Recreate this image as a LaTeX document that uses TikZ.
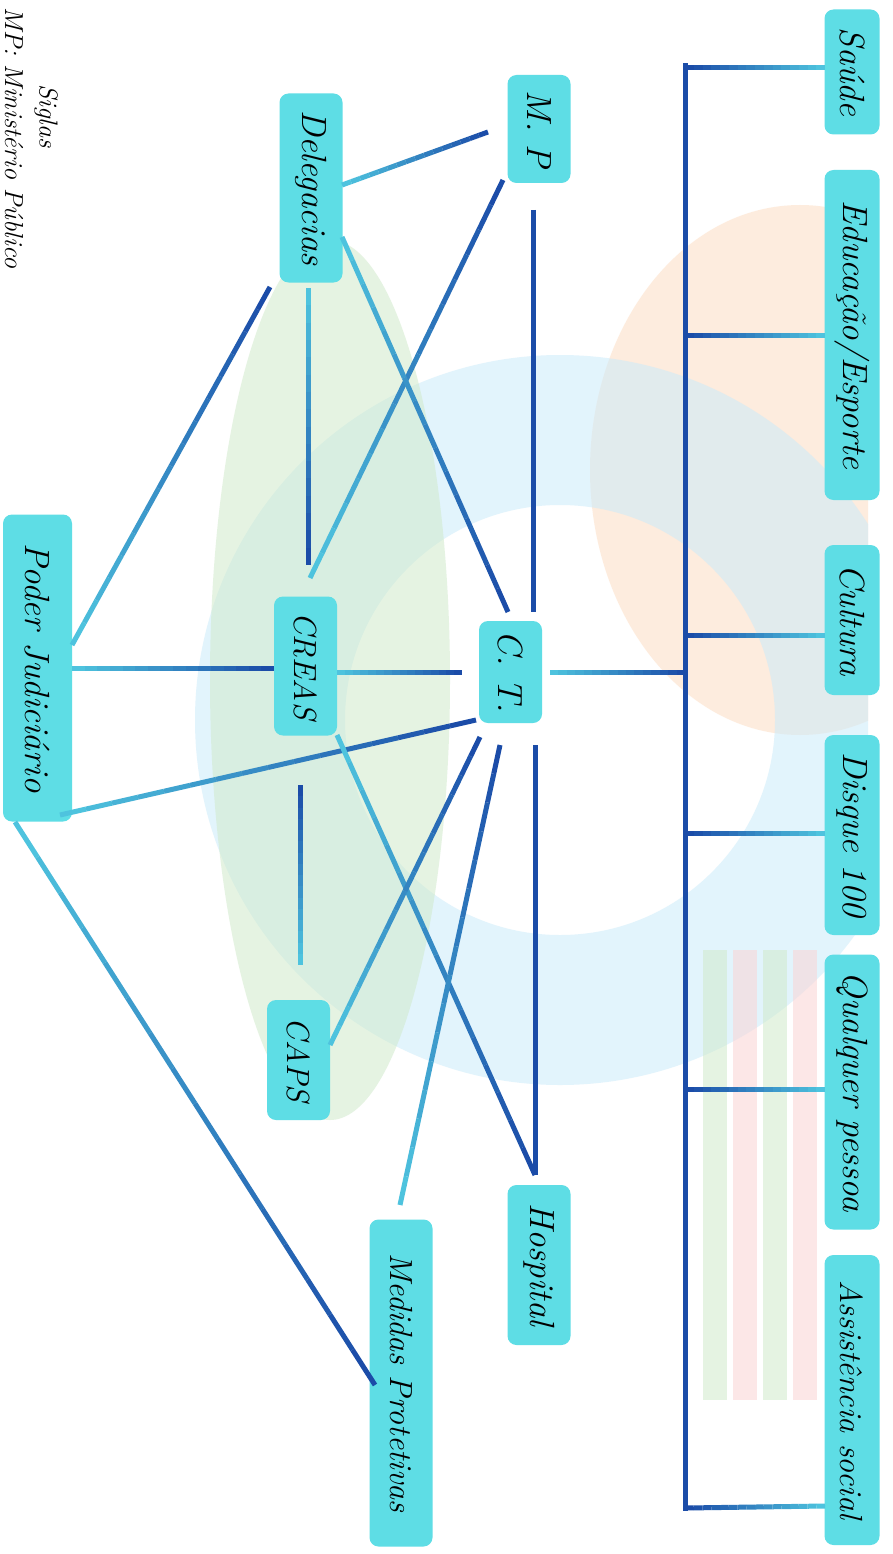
\documentclass[tikz,border=0pt]{standalone}
\usetikzlibrary{calc}
\definecolor{boxc}{RGB}{94,221,229}
\definecolor{dk}{RGB}{27,76,168}
\definecolor{lt}{RGB}{78,195,222}
\definecolor{peach}{RGB}{253,222,196}
\definecolor{skyb}{RGB}{203,235,250}
\definecolor{grn}{RGB}{208,234,203}
\definecolor{pnk}{RGB}{250,212,212}
\newcommand\gln[6]{%
  \path ($(#1)+(#2)$) coordinate (gA) ($(#3)+(#4)$) coordinate (gB);
  \foreach \i in {0,...,15}{%
    \pgfmathtruncatemacro\pc{100-\i*100/15}%
    \draw[ln,draw=#5!\pc!#6] ($(gA)!{\i/16}!(gB)$) -- ($(gA)!{(\i+1)/16}!(gB)$);
  }}
\tikzset{
  box/.style={draw=none, fill=boxc, rounded corners=9pt, rotate=-90, inner sep=0pt,
    minimum height=63pt, font=\itshape\fontsize{35}{40}\selectfont},
  topbox/.style={box, minimum height=55pt},
  smallfont/.style={font=\itshape\fontsize{32}{36}\selectfont},
  ln/.style={line width=5pt, line cap=butt},
  note/.style={rotate=-90, inner sep=0pt, font=\itshape\fontsize{26}{30}\selectfont}
}
\begin{document}
\begin{tikzpicture}[x=1pt,y=-1pt]
\useasboundingbox (0,0) rectangle (893,1554);
\fill[white] (0,0) rectangle (893,1554);
% faded background logo
\begin{scope}[opacity=0.55]
\clip (0,0) rectangle (868,1554);
\fill[peach] (800,470) ellipse [x radius=210, y radius=265];
\draw[skyb, line width=150pt] (560,720) circle [radius=290];
\fill[grn] (330,680) ellipse [x radius=120, y radius=440];
\foreach \sx/\sc in {715/grn,745/pnk,775/grn,805/pnk}{
  \fill[\sc] (\sx-12,950) rectangle (\sx+12,1400);
}
\end{scope}
% nodes
\node[topbox, minimum width=125pt] (sau) at (852,72) {Saúde};
\node[topbox, minimum width=330pt] (edu) at (852,335) {Educação/Esporte};
\node[topbox, minimum width=150pt] (cul) at (852,620) {Cultura};
\node[topbox, minimum width=200pt] (dis) at (852,835) {Disque 100};
\node[topbox, minimum width=275pt] (qua) at (852,1092) {Qualquer pessoa};
\node[topbox, minimum width=290pt, smallfont] (ass) at (852,1400) {Assistência social};
\node[box, minimum width=108pt] (mp) at (539,129) {M. P};
\node[box, minimum width=189pt] (del) at (311,188) {Delegacias};
\node[box, minimum width=102pt] (ct) at (510.5,672) {C. T.};
\node[box, minimum width=139pt, smallfont] (creas) at (305.5,666) {CREAS};
\node[box, minimum width=307pt, minimum height=69pt] (pj) at (37.5,668) {Poder Judiciário};
\node[box, minimum width=120pt, smallfont] (caps) at (298.5,1060) {CAPS};
\node[box, minimum width=160pt] (hosp) at (539,1265) {Hospital};
\node[box, minimum width=327pt, smallfont] (med) at (401,1383) {Medidas Protetivas};
\node[note] (sig) at (46,116) {Siglas};
\node[note] (mpdef) at (14,138) {MP: Ministério Público};
% bracket
\coordinate (bt) at (685,66);
\coordinate (bb) at (685,1508);
\draw[ln, dk, line cap=rect] (bt) -- (bb);
\gln{sau}{-27,-4}{bt}{0,2}{lt}{dk}
\gln{edu}{-27,0}{bt}{0,269}{lt}{dk}
\gln{cul}{-27,15}{bt}{0,569}{lt}{dk}
\gln{dis}{-27,-2}{bt}{0,767}{lt}{dk}
\gln{qua}{-27,-3}{bt}{0,1023}{lt}{dk}
\gln{ass}{-27,106}{bb}{0,0}{lt}{dk}
\gln{ct}{39.5,0}{bt}{0,606}{lt}{dk}
% connectors
\gln{mp}{-51,3}{del}{31,-3}{dk}{lt}
\gln{mp}{-36,51}{creas}{4.5,-88}{dk}{lt}
\gln{mp}{-6,81}{ct}{22.5,-60}{dk}{dk}
\gln{del}{31,49}{ct}{-2.5,-60}{lt}{dk}
\gln{del}{-3,100}{creas}{2.5,-101}{lt}{dk}
\gln{pj}{34.5,-23}{del}{-41,99}{lt}{dk}
\gln{pj}{34.5,0}{creas}{-31.5,2}{lt}{dk}
\gln{creas}{31.5,6}{ct}{-48.5,0}{lt}{dk}
\gln{pj}{22.5,147}{ct}{-34.5,48}{lt}{dk}
\gln{pj}{-22.5,154}{med}{-26,2}{lt}{dk}
\gln{creas}{-5.5,119}{caps}{1.5,-95}{dk}{lt}
\gln{creas}{31.5,69}{hosp}{-4,-90}{lt}{dk}
\gln{ct}{-30.5,65}{caps}{31.5,-15}{dk}{lt}
\gln{ct}{-10.5,73}{med}{-1,-178}{dk}{lt}
\gln{ct}{24.5,73}{hosp}{-4,-90}{dk}{dk}
\end{tikzpicture}
\end{document}
